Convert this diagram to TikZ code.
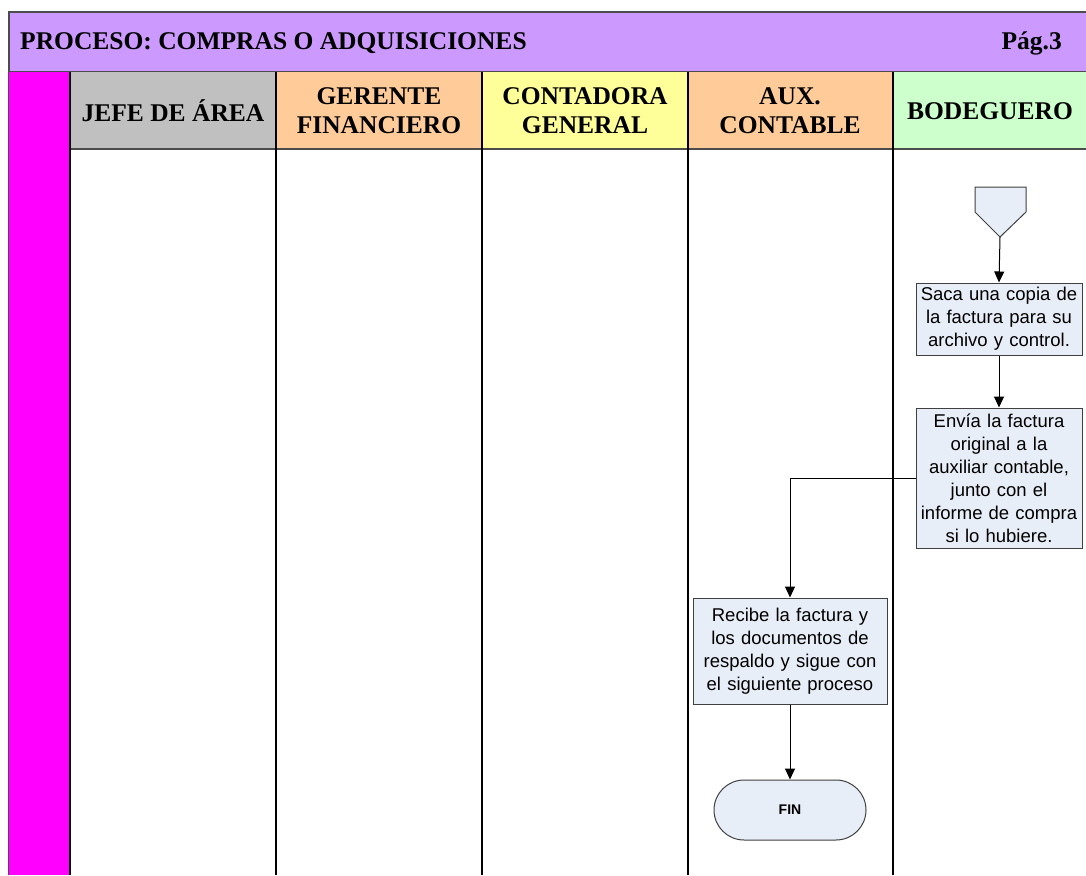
\documentclass[tikz,border=0pt]{standalone}
\usepackage{fontspec}
\setmainfont{Liberation Serif}
\newfontfamily\arialfont{Liberation Sans}
\usetikzlibrary{arrows.meta}
\definecolor{hdrpurple}{HTML}{CC99FF}
\definecolor{sidemag}{HTML}{FF00FF}
\definecolor{lanegray}{HTML}{C0C0C0}
\definecolor{laneorange}{HTML}{FFCC99}
\definecolor{laneyellow}{HTML}{FFFF99}
\definecolor{lanegreen}{HTML}{CCFFCC}
\definecolor{boxfill}{HTML}{E8EEF7}
\definecolor{boxline}{HTML}{404040}
\tikzset{
  lanehead/.style={font=\fontsize{25.5}{29}\selectfont\bfseries, align=center, inner sep=0pt},
  stepbox/.style={draw=boxline, fill=boxfill, line width=1pt, align=center,
    inner sep=0pt, font=\arialfont\fontsize{18.5}{23}\selectfont},
  flow/.style={-{Triangle[length=11pt,width=10pt]}, line width=1pt, black},
  divider/.style={line width=1.5pt, black}
}
\begin{document}
\begin{tikzpicture}[x=1pt,y=-1pt]
\useasboundingbox (0,0) rectangle (1086,875);
\fill[white] (0,0) rectangle (1086,875);
% title band
\fill[hdrpurple] (9,12) rectangle (1086,72);
\draw[line width=1.5pt, black!70] (1086,12) -- (9,12) -- (9,875);
\draw[line width=1.5pt, black!70] (9,72) -- (1086,72);
\node[anchor=west, font=\fontsize{25.5}{29}\selectfont\bfseries, inner sep=0pt] (title) at (20,43) {PROCESO: COMPRAS O ADQUISICIONES};
\node[anchor=east, font=\fontsize{25.5}{29}\selectfont\bfseries, inner sep=0pt] (page) at (1062,43) {Pág.3};
% side strip
\fill[sidemag] (9,72) rectangle (70,875);
% lane headers
\fill[lanegray] (70,72) rectangle (276,149);
\fill[laneorange] (276,72) rectangle (482,149);
\fill[laneyellow] (482,72) rectangle (688,149);
\fill[laneorange] (688,72) rectangle (893,149);
\fill[lanegreen] (893,72) rectangle (1086,149);
\draw[line width=1.5pt, black!70] (70,149) -- (1086,149);
\foreach \x in {70,276,482,688,893} \draw[divider] (\x,72) -- (\x,875);
\node[lanehead] (h1) at (173,111) {JEFE DE ÁREA};
\node[lanehead] (h2) at (379,111) {GERENTE\\FINANCIERO};
\node[lanehead] (h3) at (585,111) {CONTADORA\\GENERAL};
\node[lanehead] (h4) at (790,111) {AUX.\\CONTABLE};
\node[lanehead] (h5) at (990,111) {BODEGUERO};
% off-page connector
\draw[draw=boxline, fill=boxfill, line width=1pt]
  (975,187) -- (1026,187) -- (1026,212) -- (1000,237) -- (975,212) -- cycle;
\coordinate (off) at (1000,237);
% process steps
\node[stepbox, minimum width=166pt, minimum height=72pt, text width=164pt] (b1) at (999,319)
  {Saca una copia de\\la factura para su\\archivo y control.};
\node[stepbox, minimum width=166pt, minimum height=140pt, text width=164pt] (b2) at (999,478)
  {Envía la factura\\original a la\\auxiliar contable,\\junto con el\\informe de compra\\si lo hubiere.};
\node[stepbox, minimum width=194pt, minimum height=106pt, text width=192pt] (b3) at (790,651)
  {Recibe la factura y\\los documentos de\\respaldo y sigue con\\el siguiente proceso};
\node[stepbox, rounded corners=30pt, minimum width=152pt, minimum height=60pt,
  font=\arialfont\bfseries\fontsize{14}{17}\selectfont] (fin) at (790,810) {FIN};
% connectors
\draw[flow] (off) -- (b1.north);
\draw[flow] (b1.south) -- (b2.north);
\draw[flow] (b2.west) -| (b3.north);
\draw[flow] (b3.south) -- (fin.north);
\end{tikzpicture}
\end{document}
